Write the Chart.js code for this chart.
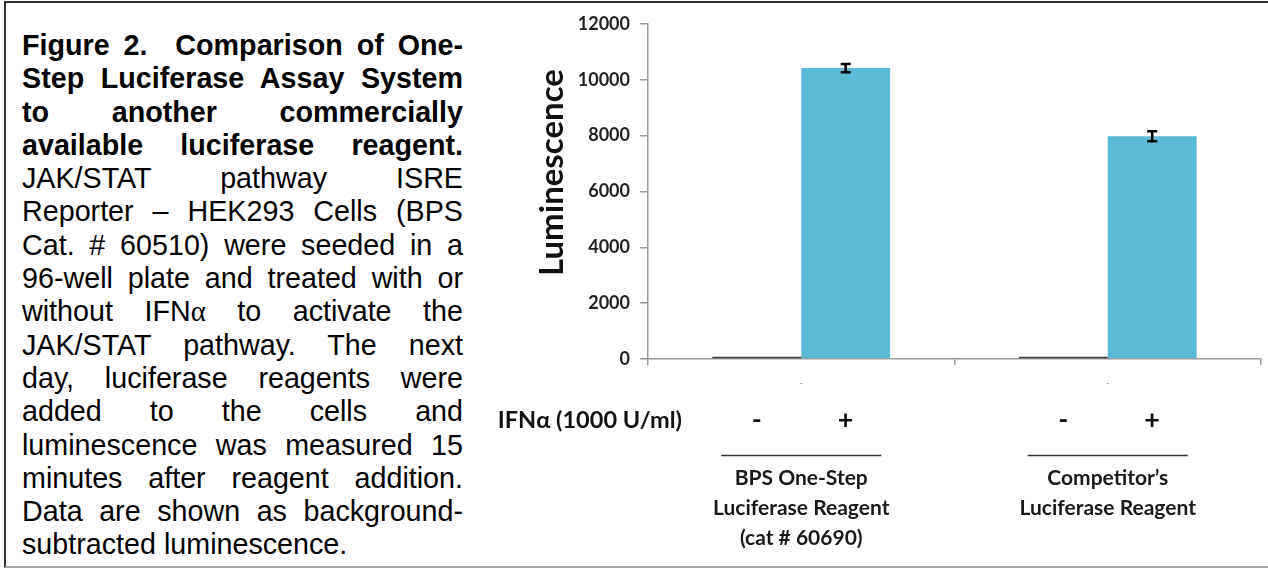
<!DOCTYPE html>
<html>
<head>
<meta charset="utf-8">
<script src="https://cdn.jsdelivr.net/npm/chart.js@4.4.1/dist/chart.umd.min.js"></script>
<style>
  html, body { margin: 0; padding: 0; background: #fff; }
  body { width: 1268px; height: 569px; position: relative; overflow: hidden; }
  .frame {
    position: absolute; left: 4px; top: 1px; width: 1280px; height: 563px;
    border-top: 2px solid #333; border-left: 2px solid #333; border-bottom: 2px solid #a8a8a8;
  }
  .caption {
    position: absolute; left: 22px; top: 29px; width: 441px;
    font-family: "Liberation Sans", Arial, sans-serif; font-size: 28.7px; line-height: 33.3px; color: #000;
  }
  .caption div { text-align: justify; text-align-last: justify; }
  .caption div.last { text-align: left; text-align-last: left; }
  .caption b { font-weight: bold; }
  .alpha { font-family: "Liberation Serif", serif; }
  #chart { position: absolute; left: 470px; top: 0; }
</style>
</head>
<body>
<div class="frame"></div>
<div class="caption">
  <div><b>Figure 2.&nbsp; Comparison of One-</b></div>
  <div><b>Step Luciferase Assay System</b></div>
  <div><b>to another commercially</b></div>
  <div><b>available luciferase reagent.</b></div>
  <div>JAK/STAT pathway ISRE</div>
  <div>Reporter – HEK293 Cells (BPS</div>
  <div>Cat. # 60510) were seeded in a</div>
  <div>96-well plate and treated with or</div>
  <div>without IFN<span class="alpha">α</span> to activate the</div>
  <div>JAK/STAT pathway. The next</div>
  <div>day, luciferase reagents were</div>
  <div>added to the cells and</div>
  <div>luminescence was measured 15</div>
  <div>minutes after reagent addition.</div>
  <div>Data are shown as background-</div>
  <div class="last">subtracted luminescence.</div>
</div>
<canvas id="chart" width="798" height="569"></canvas>
<script>
'use strict';

// ── Data ─────────────────────────────────────────────────────────────
const groupLabels = [
  ['BPS One-Step', 'Luciferase Reagent', '(cat # 60690)'],
  ['Competitor’s', 'Luciferase Reagent'],
];
const treatmentSigns  = ['-', '+'];
const untreatedValues = [80, 80];
const treatedValues   = [10420, 7980];
const treatedErrors   = [150, 180];
const yTicks          = [0, 2000, 4000, 6000, 8000, 10000, 12000];

const AXIS_TITLE = 'Luminescence';
const ROW_TITLE  = 'IFNα (1000 U/ml)';

// ── Defaults ─────────────────────────────────────────────────────────
Chart.defaults.font.family = 'Lato, "Liberation Sans", sans-serif';
Chart.defaults.color = '#222';

// ── Overlay: error bars, axis title, treatment row ───────────────────
const overlayPlugin = {
  id: 'overlay',
  afterDatasetsDraw(chart) {
    const { ctx, scales: { y } } = chart;
    const meta = chart.getDatasetMeta(1);
    ctx.save();
    ctx.strokeStyle = '#000';
    ctx.lineWidth = 2.5;
    meta.data.forEach((bar, i) => {
      const top = y.getPixelForValue(treatedValues[i] + treatedErrors[i]);
      const bot = y.getPixelForValue(treatedValues[i] - treatedErrors[i]);
      ctx.beginPath();
      ctx.moveTo(bar.x, top);     ctx.lineTo(bar.x, bot);
      ctx.moveTo(bar.x - 5, top); ctx.lineTo(bar.x + 5, top);
      ctx.moveTo(bar.x - 5, bot); ctx.lineTo(bar.x + 5, bot);
      ctx.stroke();
    });
    ctx.restore();
  },
  afterDraw(chart) {
    const { ctx, chartArea, scales: { x } } = chart;
    const bottom = chartArea.bottom;
    ctx.save();

    // y axis title (sits a bit above the middle, as in the source)
    ctx.translate(chartArea.left - 96, (chartArea.top + chartArea.bottom) / 2 - 19);
    ctx.rotate(-Math.PI / 2);
    ctx.font = 'bold 33px Lato, "Liberation Sans", sans-serif';
    ctx.fillStyle = '#111';
    ctx.textAlign = 'center';
    ctx.textBaseline = 'middle';
    ctx.fillText(AXIS_TITLE, 0, 0);
    ctx.setTransform(1, 0, 0, 1, 0, 0);

    // tiny category marks under the axis
    ctx.font = '9px Lato, sans-serif';
    ctx.fillStyle = '#888';
    groupLabels.forEach((_, i) => ctx.fillText('-', x.getPixelForValue(i), bottom + 24));

    // treatment row
    ctx.fillStyle = '#111';
    ctx.font = 'bold 23.5px Lato, "Liberation Sans", sans-serif';
    ctx.textAlign = 'right';
    ctx.fillText(ROW_TITLE, chartArea.left + 34, bottom + 61);
    ctx.textAlign = 'center';
    ctx.font = 'bold 27px Lato, "Liberation Sans", sans-serif';
    chart.data.datasets.forEach((ds, d) => {
      chart.getDatasetMeta(d).data.forEach(bar => {
        ctx.fillText(treatmentSigns[d], bar.x, bottom + 61);
      });
    });

    // group underlines
    ctx.strokeStyle = '#333';
    ctx.lineWidth = 1.5;
    groupLabels.forEach((_, i) => {
      const cx = x.getPixelForValue(i);
      ctx.beginPath();
      ctx.moveTo(cx - 80, bottom + 96.5);
      ctx.lineTo(cx + 80, bottom + 96.5);
      ctx.stroke();
    });
    ctx.restore();
  },
};

// ── Chart ────────────────────────────────────────────────────────────
new Chart(document.getElementById('chart'), {
  type: 'bar',
  data: {
    labels: groupLabels,
    datasets: [
      {
        label: treatmentSigns[0],
        data: untreatedValues,
        backgroundColor: '#3f3f3f',
        barPercentage: 1.0,
        categoryPercentage: 0.58,
      },
      {
        label: treatmentSigns[1],
        data: treatedValues,
        backgroundColor: '#5bbad6',
        barPercentage: 1.0,
        categoryPercentage: 0.58,
      },
    ],
  },
  options: {
    responsive: false,
    animation: false,
    devicePixelRatio: 1,
    layout: { padding: { left: 0, top: 24, right: 7, bottom: 0 } },
    plugins: {
      legend: { display: false },
      tooltip: { enabled: false },
    },
    scales: {
      x: {
        grid: { drawOnChartArea: false, tickLength: 6, color: '#9a9a9a', lineWidth: 1.5 },
        border: { color: '#9a9a9a', width: 1.5 },
        ticks: {
          font: { size: 21, weight: 'bold', lineHeight: 30 / 21 },
          color: '#1a1a1a',
          padding: 98,
          maxRotation: 0,
          autoSkip: false,
        },
        afterFit: scale => {
          scale.height = 210;
          // the large label gap should not eat into the plot width
          scale.paddingLeft = 0;
          scale.paddingRight = 0;
        },
      },
      y: {
        min: yTicks[0],
        max: yTicks[yTicks.length - 1],
        afterBuildTicks: scale => { scale.ticks = yTicks.map(v => ({ value: v })); },
        grid: { drawOnChartArea: false, tickLength: 8, color: '#9a9a9a', lineWidth: 1.5 },
        border: { color: '#9a9a9a', width: 1.5 },
        ticks: {
          font: { size: 18, weight: 'bold' },
          color: '#222',
          padding: 10,
          callback: v => String(v),
        },
        afterFit: scale => { scale.width = 178; },
      },
    },
  },
  plugins: [overlayPlugin],
});
</script>
</body>
</html>
